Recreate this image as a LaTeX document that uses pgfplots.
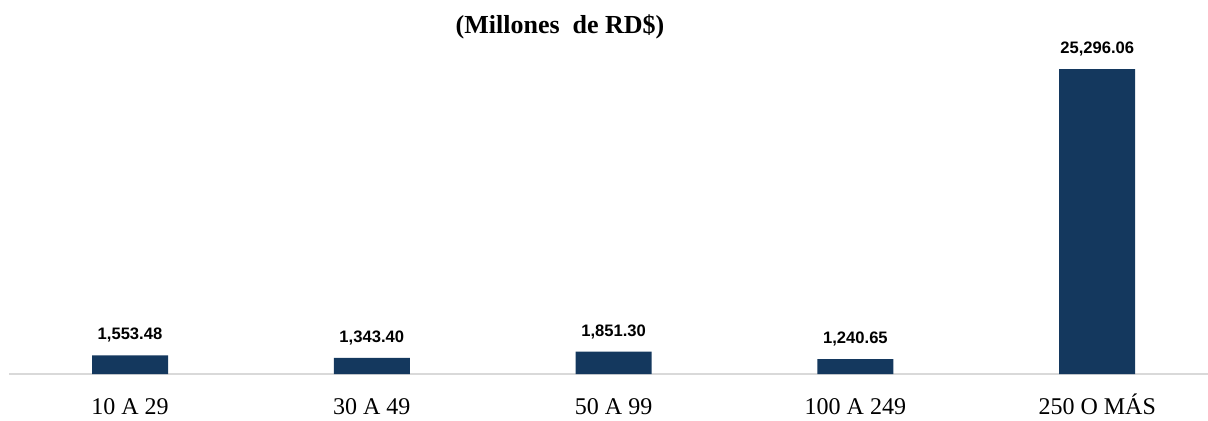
\documentclass[border=0pt]{standalone}
\usepackage{pgfplots}
\pgfplotsset{compat=1.18}
\usepackage{fontspec}
\setmainfont{Liberation Serif}
\newfontfamily\labelfont{Liberation Sans}
\definecolor{barblue}{RGB}{20,56,94}
\definecolor{axisgray}{RGB}{217,217,217}
\begin{document}
\begin{tikzpicture}
\path[use as bounding box] (0,0) rectangle (604pt,210pt);
\begin{axis}[
  at={(65pt,23pt)}, anchor=origin,
  scale only axis,
  width=604.5pt, height=180.85pt,
  xmin=-0.5, xmax=4.5, ymin=0, ymax=30000,
  axis y line=none,
  axis x line*=bottom,
  x axis line style={draw=axisgray, line width=1pt, -},
  xtick=data,
  xticklabels={10 A 29, 30 A 49, 50 A 99, 100 A 249, 250 O MÁS},
  major tick length=0pt,
  xticklabel style={font=\fontsize{12}{13}\selectfont, anchor=base, yshift=-20pt},
  ybar, bar width=38pt,
  point meta=explicit symbolic,
  nodes near coords,
  nodes near coords style={font=\labelfont\bfseries\fontsize{8.3}{9}\selectfont, yshift=3pt},
  clip=false,
]
\addplot[fill=barblue, draw=none] coordinates {
  (0,1553.48) [1,553.48]
  (1,1343.40) [1,343.40]
  (2,1851.30) [1,851.30]
  (3,1240.65) [1,240.65]
  (4,25296.06) [25,296.06]
};
\end{axis}
\node[font=\bfseries\fontsize{13}{15}\selectfont] at (280pt,196.5pt) {(Millones\ \ de RD\$)};
\end{tikzpicture}
\end{document}
